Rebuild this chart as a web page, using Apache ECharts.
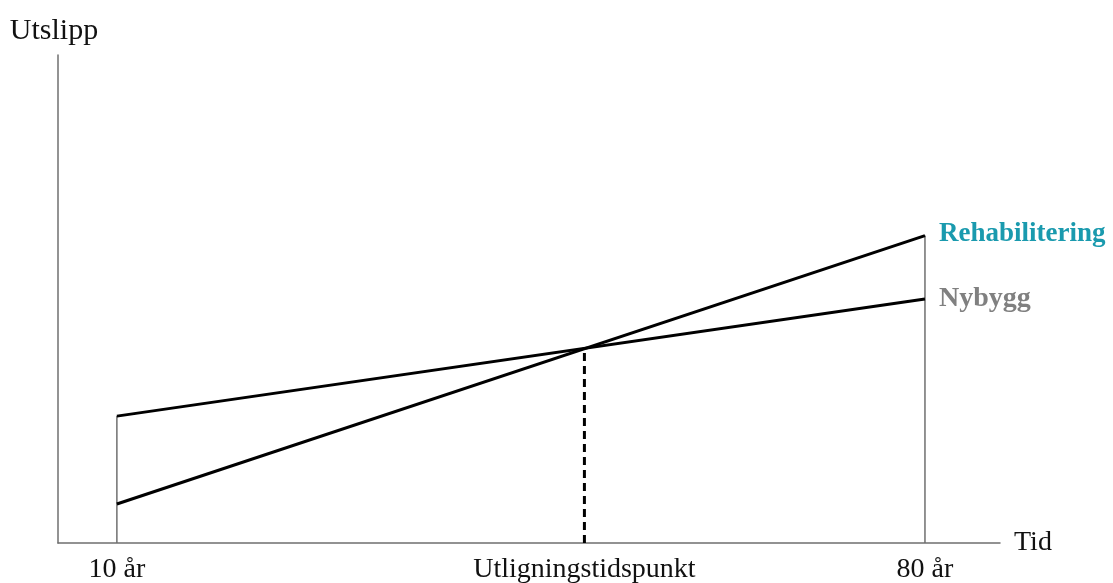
<!DOCTYPE html>
<html>
<head>
<meta charset="utf-8">
<script src="https://cdn.jsdelivr.net/npm/echarts@6/dist/echarts.min.js"></script>
<style>
  html, body { margin: 0; padding: 0; background: #fff; }
  #chart { width: 1113px; height: 583px; }
</style>
</head>
<body>
<div id="chart"></div>
<script>
// år
const years = [10, 80]
// utslipp (relative, lest av figuren)
const nybygg = [26, 50]
const rehabilitering = [8, 63]
// utligningstidspunkt
const crossYear = 50.5
const crossValue = 40
const tickValues = [10, 50.5, 80]
const tickLabels = ['10 år', 'Utligningstidspunkt', '80 år']

const serif = '"Liberation Serif", "DejaVu Serif", serif'
const axisGrey = '#6f6f6f'

const chart = echarts.init(document.getElementById('chart'), null, { renderer: 'canvas' })

const pairs = (xs, ys) => xs.map((x, i) => [x, ys[i]])

chart.setOption({
  animation: false,
  grid: { left: 58, right: 113, top: 55, bottom: 40, outerBoundsMode: 'none', containLabel: false },
  xAxis: {
    type: 'value',
    min: 4.9,
    max: 86.5,
    name: 'Tid',
    nameGap: 14,
    nameTextStyle: { fontFamily: serif, fontSize: 28, color: '#111' },
    axisLine: { show: true, lineStyle: { color: axisGrey, width: 1.5 } },
    axisTick: { show: false },
    splitLine: { show: false },
    axisLabel: {
      customValues: tickValues,
      margin: 13,
      fontFamily: serif,
      fontSize: 28,
      color: '#111',
      formatter: v => tickLabels[tickValues.indexOf(v)] || ''
    }
  },
  yAxis: {
    type: 'value',
    min: 0,
    max: 100,
    name: 'Utslipp',
    nameGap: 9,
    nameTextStyle: { fontFamily: serif, fontSize: 30, color: '#111', align: 'center', padding: [0, 0, 0, -8] },
    axisLine: { show: true, lineStyle: { color: axisGrey, width: 1.5 } },
    axisTick: { show: false },
    axisLabel: { show: false },
    splitLine: { show: false }
  },
  series: [
    {
      // hjelpelinje ved 10 år
      type: 'line',
      data: [[years[0], 0], [years[0], Math.max(nybygg[0], rehabilitering[0])]],
      symbol: 'none',
      lineStyle: { color: axisGrey, width: 1.5 },
      z: 1
    },
    {
      // hjelpelinje ved 80 år
      type: 'line',
      data: [[years[1], 0], [years[1], Math.max(nybygg[1], rehabilitering[1])]],
      symbol: 'none',
      lineStyle: { color: axisGrey, width: 1.5 },
      z: 1
    },
    {
      type: 'line',
      data: [[crossYear, 0], [crossYear, crossValue]],
      symbol: 'none',
      lineStyle: { color: '#000', width: 3, type: [8, 5] },
      z: 2
    },
    {
      name: 'Nybygg',
      type: 'line',
      data: pairs(years, nybygg),
      symbol: 'none',
      lineStyle: { color: '#000', width: 3 },
      endLabel: {
        show: true,
        formatter: 'Nybygg',
        distance: 14,
        offset: [0, 0],
        fontFamily: serif,
        fontWeight: 'bold',
        fontSize: 28,
        color: '#808080'
      },
      z: 3
    },
    {
      name: 'Rehabilitering',
      type: 'line',
      data: pairs(years, rehabilitering),
      symbol: 'none',
      lineStyle: { color: '#000', width: 3 },
      endLabel: {
        show: true,
        formatter: 'Rehabilitering',
        distance: 14,
        offset: [0, -2],
        fontFamily: serif,
        fontWeight: 'bold',
        fontSize: 27,
        color: '#1a9aae'
      },
      z: 3
    }
  ]
})
</script>
</body>
</html>
